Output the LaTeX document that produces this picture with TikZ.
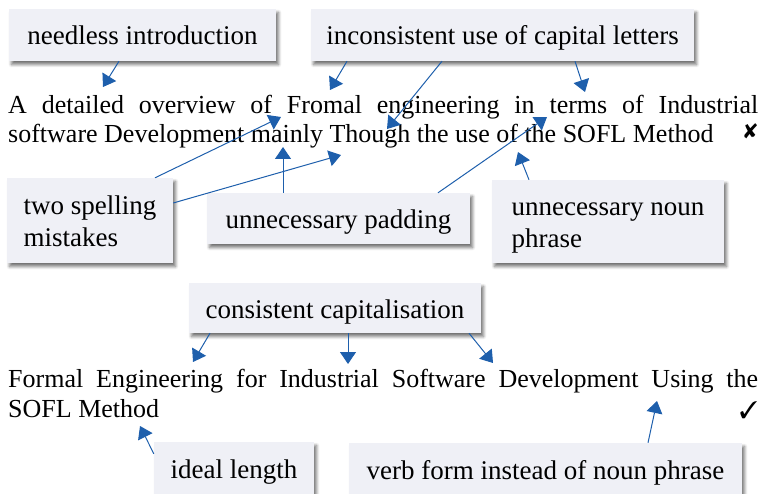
\documentclass[tikz,border=0pt]{standalone}
\usepackage{fontspec}
\setmainfont{Liberation Serif}
\usepackage{pifont}
\usetikzlibrary{arrows.meta,shadows.blur}
\definecolor{boxfill}{RGB}{239,240,246}
\definecolor{arrblue}{RGB}{30,95,172}
\tikzset{
  lbl/.style={fill=boxfill, inner sep=0pt, font=\fontsize{27}{32}\selectfont,
    text height=22pt, text depth=2pt, align=left,
    blur shadow={shadow xshift=2.5pt, shadow yshift=-3.5pt, shadow blur steps=6, shadow blur radius=3pt, shadow opacity=55}},
  twoline/.style={text height=54pt},
  conn/.style={draw=arrblue, line width=1pt, -{Triangle[length=12pt,width=16pt,fill=arrblue]}},
  maintxt/.style={inner sep=0pt, anchor=base west, font=\fontsize{26}{30}\selectfont},
  marksym/.style={inner sep=0pt, anchor=base east, text depth=0pt},
}
\begin{document}
\begin{tikzpicture}[x=1pt,y=-1pt]
\useasboundingbox (0,0) rectangle (762,494);
% boxes
\node[lbl, minimum width=267pt, minimum height=52pt] (n1) at (142.5,35) {needless introduction};
\node[lbl, minimum width=383pt, minimum height=52pt] (n2) at (502.5,35) {inconsistent use of capital letters};
\node[lbl, twoline, minimum width=166pt, minimum height=85pt] (n3) at (90,220.5) {two spelling\\mistakes};
\node[lbl, minimum width=263pt, minimum height=51pt] (n4) at (338.5,218.5) {unnecessary padding};
\node[lbl, twoline, minimum width=232pt, minimum height=83pt] (n5) at (608,221.5) {unnecessary noun\\phrase};
\node[lbl, minimum width=292pt, minimum height=50pt] (n6) at (335,308) {consistent capitalisation};
\node[lbl, minimum width=160pt, minimum height=52pt] (n7) at (234,468) {ideal length};
\node[lbl, minimum width=393pt, minimum height=52pt] (n8) at (545.5,469) {verb form instead of noun phrase};
% texts
\node[maintxt] (t1) at (8,114) {\makebox[750pt][s]{A detailed overview of Fromal engineering in terms of Industrial}};
\node[maintxt] (t2) at (8,143) {software Development mainly Though the use of the SOFL Method};
\node[marksym, text height=11pt, font=\fontsize{21}{22}\selectfont] (xm) at (758,139) {\ding{56}};
\node[maintxt] (t3) at (8,387) {\makebox[750pt][s]{Formal Engineering for Industrial Software Development Using the}};
\node[maintxt] (t4) at (8,417) {SOFL Method};
\node[marksym, font=\fontsize{24}{26}\selectfont] (cm) at (758,418) {\ding{51}};
% tips
\coordinate (p1) at (103,87);
\coordinate (p2) at (330,90);
\coordinate (p3) at (387,129);
\coordinate (p4) at (585,92);
\coordinate (p5) at (281,117);
\coordinate (p6) at (341,155);
\coordinate (p7) at (283,147);
\coordinate (p8) at (547,117);
\coordinate (p9) at (518,152);
\coordinate (p10) at (193,362);
\coordinate (p11) at (348,364);
\coordinate (p12) at (493,363);
\coordinate (p13) at (140,426);
\coordinate (p14) at (657,401);
% connectors
\draw[conn] ([xshift=-23.5pt]n1.south) -- (p1);
\draw[conn] ([xshift=-155.5pt]n2.south) -- (p2);
\draw[conn] ([xshift=-60.5pt]n2.south) -- (p3);
\draw[conn] ([xshift=72.5pt]n2.south) -- (p4);
\draw[conn] ([xshift=65pt]n3.north) -- (p5);
\draw[conn] ([yshift=17.5pt]n3.east) -- (p6);
\draw[conn] ([xshift=-55.5pt]n4.north) -- (p7);
\draw[conn] ([xshift=99.5pt]n4.north) -- (p8);
\draw[conn] ([xshift=-79pt]n5.north) -- (p9);
\draw[conn] ([xshift=-125pt]n6.south) -- (p10);
\draw[conn] ([xshift=13pt]n6.south) -- (p11);
\draw[conn] ([xshift=134pt]n6.south) -- (p12);
\draw[conn] ([yshift=-12pt]n7.north west) -- (p13);
\draw[conn] ([xshift=102.5pt]n8.north) -- (p14);
\end{tikzpicture}
\end{document}
